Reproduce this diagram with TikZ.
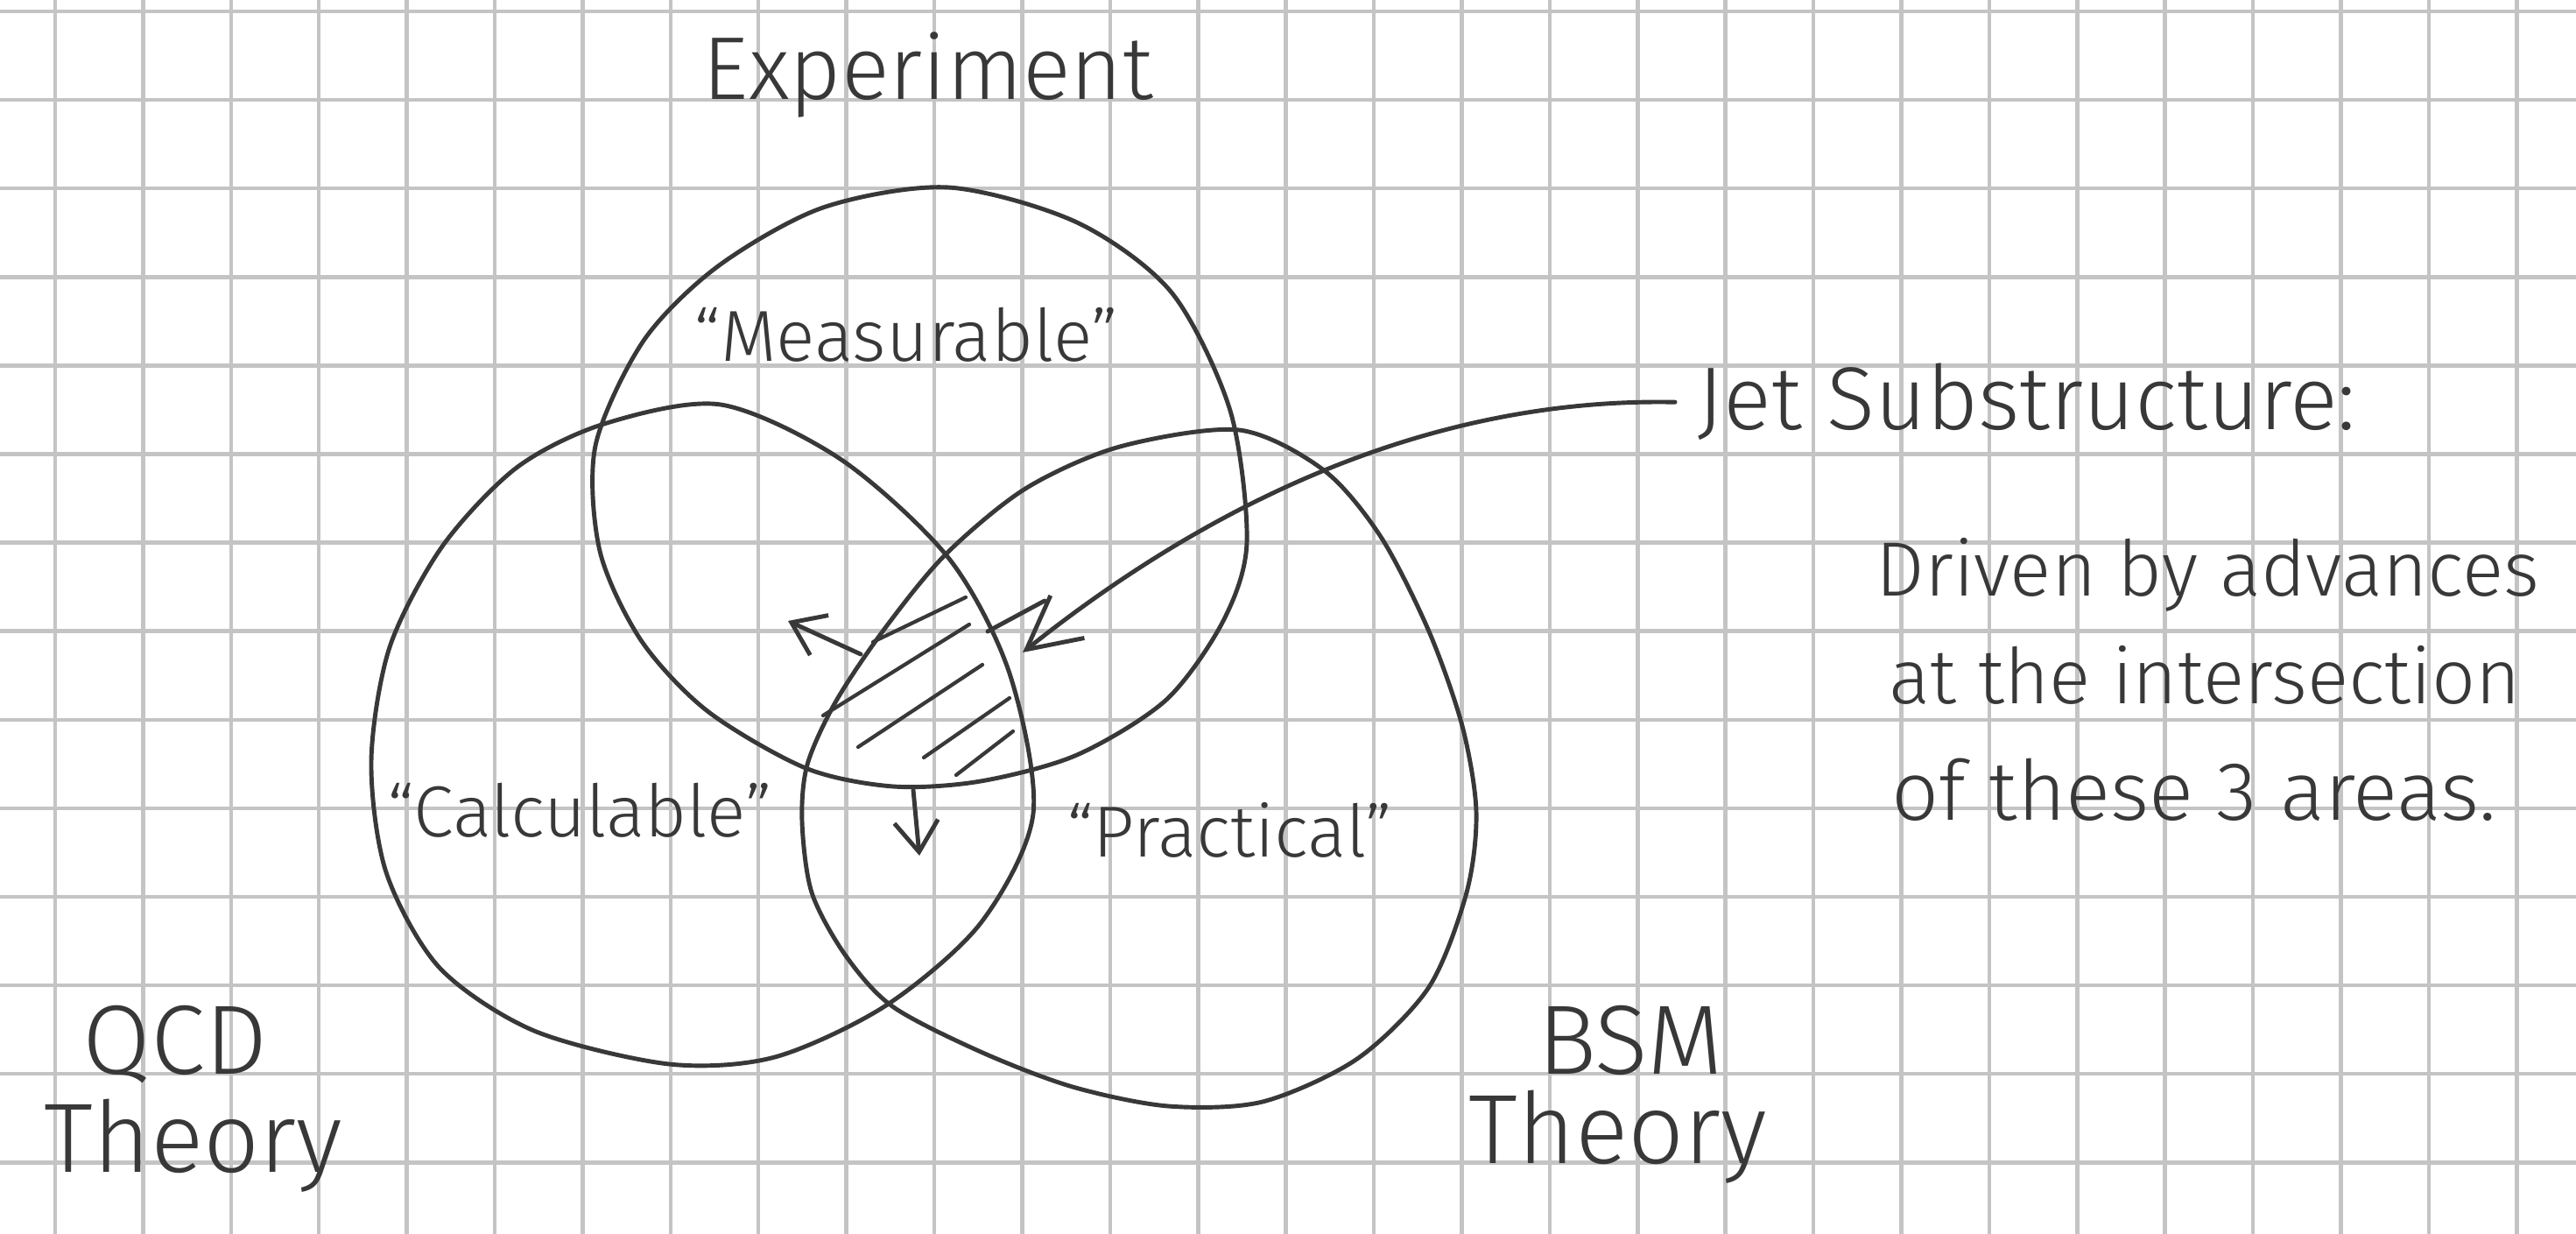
\documentclass[tikz,border=0pt]{standalone}
\usepackage{fontspec}
\setmainfont{Fira Sans}[UprightFont={* Light}]
\usepackage{xcolor}
\usetikzlibrary{arrows.meta}
\definecolor{ink}{HTML}{383838}
\definecolor{gridgray}{HTML}{C4C4C4}

\begin{document}
\begin{tikzpicture}[
  pen/.style={draw=ink,line width=1.4pt,line cap=round,line join=round},
  pointer/.style={pen,-{Straight Barb[length=6mm,width=6.2mm]}},
  nudge/.style={pen,-{Straight Barb[length=3.5mm,width=5mm]}},
  hatch/.style={draw=ink,line width=1.2pt,line cap=round},
  gridline/.style={draw=gridgray,line width=1.3pt},
  big/.style={font=\fontsize{29}{32}\selectfont,text=ink,inner sep=0pt,anchor=base},
  quoted/.style={font=\fontsize{23.5}{26}\selectfont,text=ink,inner sep=0pt,anchor=base},
  corner/.style={font=\fontsize{32}{36}\selectfont,text=ink,inner sep=0pt,anchor=base},
  note/.style={font=\fontsize{25}{28}\selectfont,text=ink,inner sep=0pt,anchor=base west}
]

% Paper
\fill[white] (0,0) rectangle (29.42,14.09);
\useasboundingbox (0,0) rectangle (29.42,14.09);
\foreach \i in {0,...,28}
  \draw[gridline] ({0.63+1.004*\i},0) -- ({0.63+1.004*\i},14.09);
\foreach \j in {0,...,13}
  \draw[gridline] (0,{13.96-1.011*\j}) -- (29.42,{13.96-1.011*\j});

% Three areas
\draw[pen] plot[smooth cycle] coordinates {
  (10.83,11.95) (12.30,11.55) (13.38,10.75) (14.05,9.40) (14.24,7.90)
  (13.97,7.00) (13.32,6.10) (12.30,5.47) (11.20,5.17) (10.20,5.11)
  (9.20,5.32) (8.08,5.97) (7.32,6.78) (6.85,7.80) (6.80,9.00)
  (7.35,10.20) (8.20,11.05) (9.40,11.72)};
\draw[pen] plot[smooth cycle] coordinates {
  (8.23,9.47) (9.61,8.84) (10.84,7.71) (11.53,6.40) (11.80,4.80)
  (11.20,3.55) (10.12,2.61) (8.85,2.02) (7.64,1.94) (6.10,2.32)
  (5.02,3.04) (4.41,4.13) (4.24,5.40) (4.45,6.70) (5.05,7.85)
  (5.90,8.75) (6.90,9.25)};
\draw[pen] plot[smooth cycle] coordinates {
  (14.15,9.18) (15.12,8.72) (15.77,7.96) (16.32,6.88) (16.70,5.80)
  (16.86,4.82) (16.75,3.90) (16.32,2.82) (15.50,2.00) (14.42,1.51)
  (13.34,1.46) (12.25,1.68) (11.20,2.08) (10.19,2.60) (9.65,3.19)
  (9.27,3.90) (9.16,4.71) (9.22,5.36) (9.54,6.07) (10.08,6.88)
  (10.79,7.75) (11.71,8.51) (12.79,8.99)};

% Hatched overlap
\draw[hatch] (9.97,6.76) -- (11.03,7.27);
\draw[hatch] (9.40,5.92) -- (11.07,6.96);
\draw[hatch] (9.80,5.56) -- (11.22,6.50);
\draw[hatch] (10.55,5.44) -- (11.53,6.12);
\draw[hatch] (10.92,5.24) -- (11.57,5.74);

% Labels
\node[big] (exp) at (10.60,12.95) {Experiment};
\node[quoted] (meas) at (10.35,9.96) {“Measurable”};
\node[quoted] (calc) at (6.62,4.53) {“Calculable”};
\node[quoted] (prac) at (14.04,4.30) {“Practical”};
\node[corner] (qcd) at (2.00,1.82) {QCD};
\node[corner] (qcdth) at (2.21,0.70) {Theory};
\node[corner] (bsm) at (18.62,1.82) {BSM};
\node[corner] (bsmth) at (18.48,0.80) {Theory};

% Note
\node[big,anchor=base west] (jet) at (19.38,9.18) {Jet Substructure:};
\node[note] (d1) at (21.42,7.28) {Driven by advances};
\node[note] (d2) at (21.57,6.05) {at the intersection};
\node[note,font=\fontsize{27}{30}\selectfont] (d3) at (21.60,4.72) {of these 3 areas.};

% Arrows
\coordinate (tip) at (11.68,6.64);
\coordinate (ur0) at (11.28,6.88);
\coordinate (ur1) at (11.93,7.23);
\coordinate (ul0) at (9.83,6.62);
\coordinate (ul1) at (9.00,7.00);
\coordinate (dn0) at (10.43,5.07);
\coordinate (dn1) at (10.50,4.32);
\draw[pointer] ([xshift=-2.5mm]jet.west) .. controls (16.5,9.55) and (14.0,8.49) .. (tip);
\draw[pen] (ur0) -- (ur1);
\draw[nudge] (ul0) -- (ul1);
\draw[nudge] (dn0) -- (dn1);

\end{tikzpicture}
\end{document}
